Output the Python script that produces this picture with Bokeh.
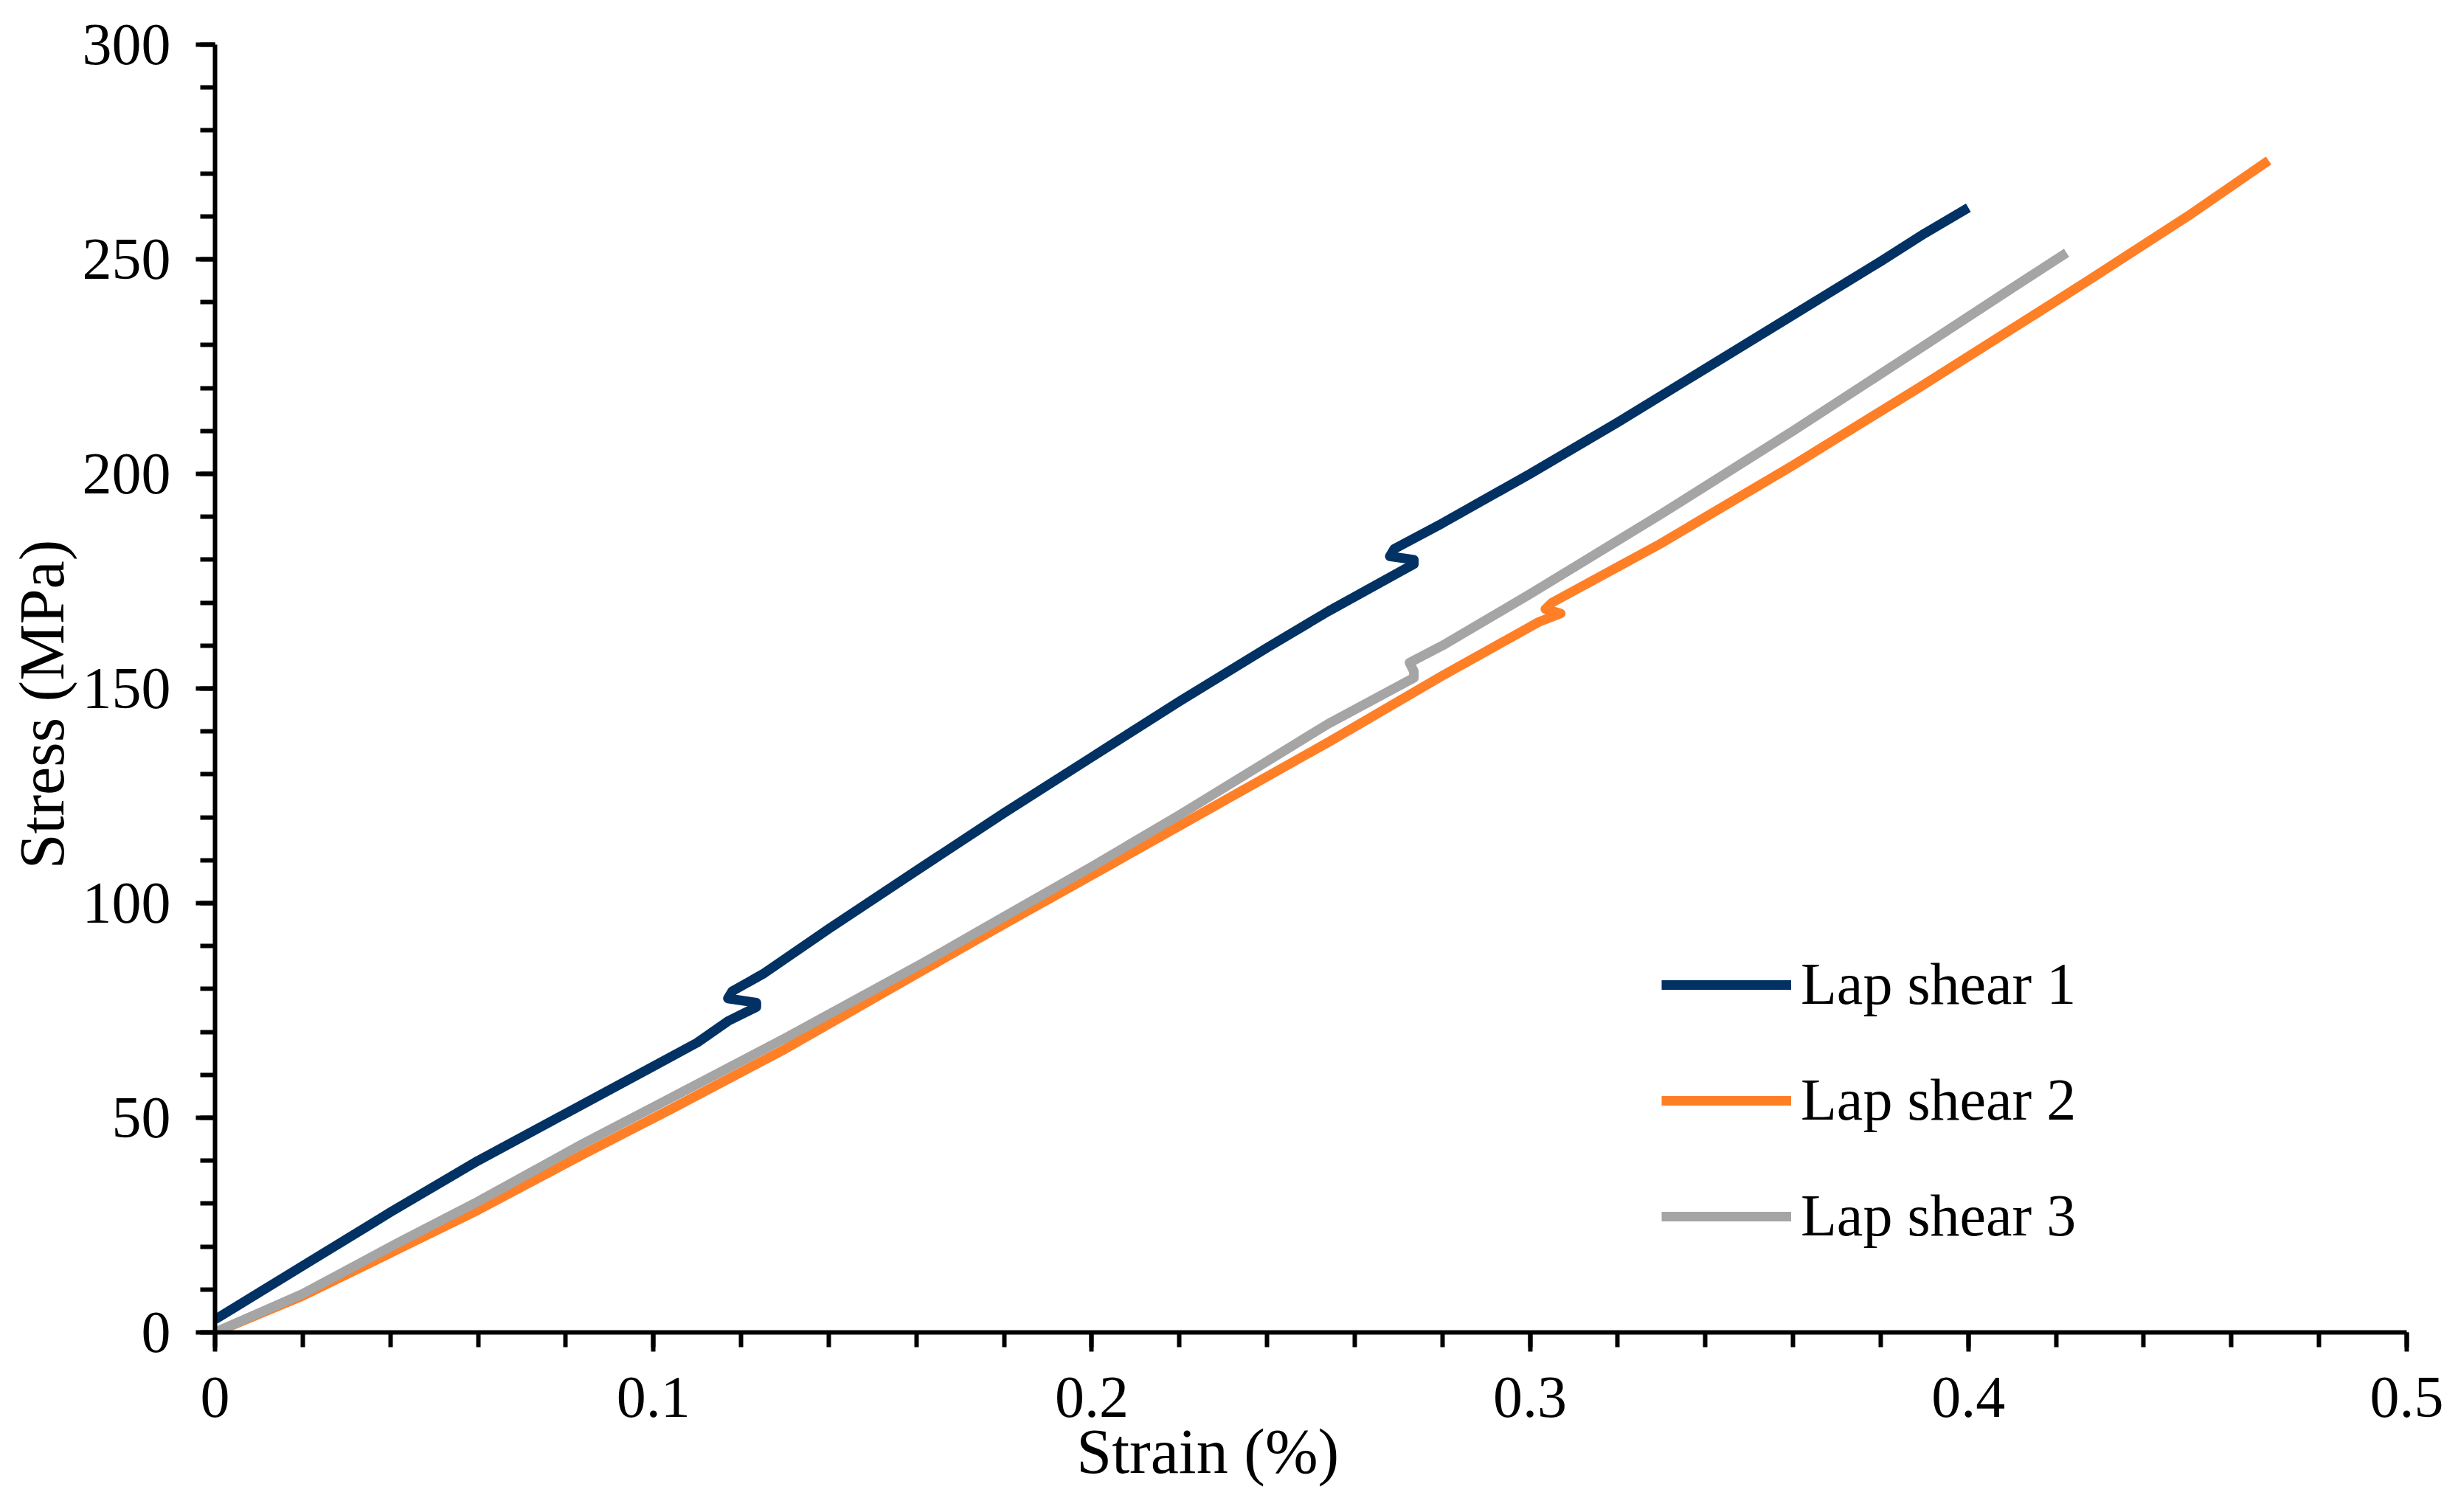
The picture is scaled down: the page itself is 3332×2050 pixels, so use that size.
from bokeh.plotting import figure
from bokeh.models import Range1d, FixedTicker, Legend, LegendItem
from bokeh.embed import file_html
from bokeh.resources import INLINE

# ---------------- data ----------------
strain_1 = [0.0, 0.02, 0.04, 0.06, 0.08, 0.09, 0.10, 0.11, 0.117, 0.1235, 0.1235,
            0.117, 0.118, 0.125, 0.14, 0.1614, 0.18, 0.20, 0.22, 0.24, 0.254,
            0.2735, 0.2735, 0.268, 0.269, 0.28, 0.30, 0.32, 0.34, 0.36, 0.38,
            0.39, 0.40]
stress_1 = [3.0, 15.5, 28.0, 40.0, 51.0, 56.5, 62.0, 67.5, 72.5, 75.8, 76.8,
            77.8, 79.5, 83.5, 94.0, 108.5, 121.0, 134.0, 147.0, 159.5, 168.0,
            179.0, 180.0, 180.8, 182.5, 188.5, 200.0, 212.0, 224.5, 237.0, 249.5,
            256.0, 262.0]

strain_2 = [0.0, 0.02, 0.042, 0.06, 0.084, 0.104, 0.13, 0.1614, 0.181, 0.20,
            0.22, 0.254, 0.28, 0.302, 0.307, 0.3035, 0.305, 0.3297, 0.36,
            0.3886, 0.4273, 0.45, 0.4685]
stress_2 = [0.0, 8.5, 19.5, 28.5, 41.5, 52.0, 66.0, 84.3, 95.7, 106.5,
            118.0, 137.5, 153.0, 165.5, 167.5, 168.5, 170.0, 183.7, 202.0,
            220.0, 245.0, 260.0, 273.0]

strain_3 = [0.0, 0.02, 0.042, 0.06, 0.084, 0.10, 0.13, 0.1614, 0.176, 0.20,
            0.22, 0.254, 0.2735, 0.2735, 0.2725, 0.28, 0.30, 0.3297, 0.36,
            0.3886, 0.41, 0.4224]
stress_3 = [0.0, 9.0, 21.0, 30.5, 44.0, 52.5, 68.5, 86.0, 94.5, 108.5,
            120.5, 141.8, 152.5, 154.0, 156.0, 160.0, 172.0, 190.5, 210.0,
            229.0, 243.3, 251.5]

series_names = ["Lap shear 1", "Lap shear 2", "Lap shear 3"]
series_colors = ["#023263", "#FF7F27", "#A5A5A5"]

x_ticks = [0, 0.1, 0.2, 0.3, 0.4, 0.5]
x_tick_labels = ["0", "0.1", "0.2", "0.3", "0.4", "0.5"]
x_minor = [0.02 * i for i in range(26)]
y_ticks = [0, 50, 100, 150, 200, 250, 300]
y_minor = [10 * i for i in range(31)]

x_title = "Strain (%)"
y_title = "Stress (MPa)"

FONT = "Liberation Serif"
NBSP = "\u00a0"

# ---------------- figure ----------------
p = figure(width=3316, height=2034,
           x_range=Range1d(0, 0.5), y_range=Range1d(0, 300),
           output_backend="svg", toolbar_location=None,
           min_border_left=291, min_border_right=54,
           min_border_top=60, min_border_bottom=228)
p.xgrid.visible = False
p.ygrid.visible = False
p.outline_line_color = None
p.background_fill_color = "white"
p.border_fill_color = "white"

for ax in (p.xaxis[0], p.yaxis[0]):
    ax.axis_line_width = 6
    ax.axis_line_color = "black"
    ax.major_tick_line_width = 6
    ax.minor_tick_line_width = 6
    ax.major_tick_line_color = "black"
    ax.minor_tick_line_color = "black"
    ax.major_tick_in = 0
    ax.minor_tick_in = 0
    ax.major_tick_out = 26
    ax.minor_tick_out = 20
    ax.major_label_text_font = FONT
    ax.major_label_text_font_size = "80px"
    ax.major_label_text_color = "black"
    ax.axis_label_text_font = FONT
    ax.axis_label_text_font_size = "86px"
    ax.axis_label_text_font_style = "normal"
    ax.axis_label_text_color = "black"

p.xaxis.ticker = FixedTicker(ticks=x_ticks, minor_ticks=x_minor)
p.xaxis.major_label_overrides = {t: l for t, l in zip(x_ticks, x_tick_labels)}
p.xaxis.major_label_standoff = 35
p.xaxis.axis_label = x_title + NBSP * 13
p.xaxis.axis_label_standoff = -4

p.yaxis.ticker = FixedTicker(ticks=y_ticks, minor_ticks=y_minor)
p.yaxis.major_label_standoff = 34
p.yaxis.axis_label = y_title + NBSP * 2
p.yaxis.axis_label_standoff = 4

renderers = []
for xs, ys, c in zip([strain_1, strain_2, strain_3],
                     [stress_1, stress_2, stress_3], series_colors):
    r = p.line(xs, ys, line_color=c, line_width=13, line_join="round")
    renderers.append(r)

legend = Legend(items=[LegendItem(label=n, renderers=[r])
                       for n, r in zip(series_names, renderers)],
                location=(1961, 112), orientation="vertical",
                glyph_width=176, glyph_height=80, label_height=80,
                spacing=66, padding=0, margin=0, label_standoff=13,
                border_line_color=None, background_fill_alpha=0,
                label_text_font=FONT, label_text_font_size="80px",
                label_text_color="black")
p.add_layout(legend)

open("out.html", "w").write(file_html(p, INLINE))
